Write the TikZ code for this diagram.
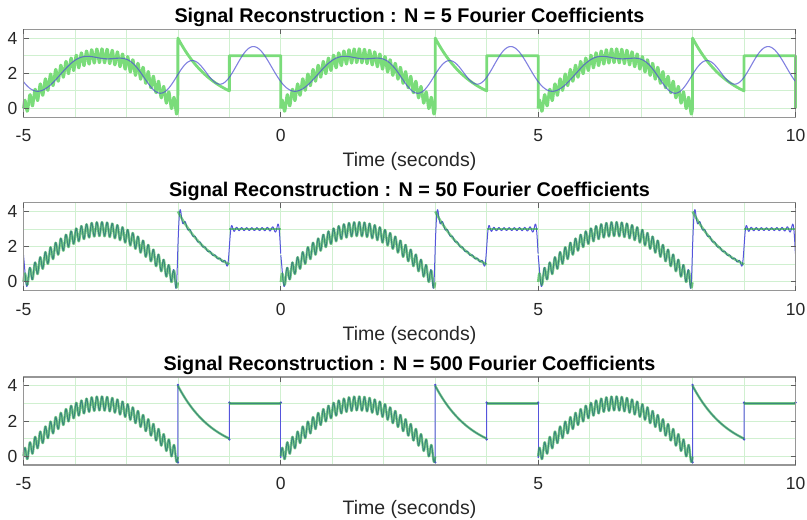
\documentclass[tikz,border=0pt]{standalone}
\usepackage{fontspec}
\setmainfont{Liberation Sans}

\definecolor{sigGreen}{RGB}{122,220,122}
\definecolor{sigGreenDark}{RGB}{40,170,60}
\definecolor{recBlue}{RGB}{80,80,212}
\definecolor{recBlueLight}{RGB}{85,85,220}
\definecolor{gridGreen}{RGB}{208,240,208}
\definecolor{boxGrey}{RGB}{150,150,150}
\definecolor{tickGrey}{RGB}{95,95,95}
\definecolor{labelGrey}{RGB}{38,38,38}

\tikzset{
  gridline/.style={gridGreen, line width=0.8pt},
  frameline/.style={boxGrey, line width=1.2pt},
  tickmark/.style={tickGrey, line width=0.9pt},
  ticklabel/.style={font=\fontsize{17.5}{20}\selectfont, text=labelGrey, inner sep=0pt},
  axlabel/.style={font=\fontsize{19.5}{22}\selectfont, text=labelGrey, inner sep=0pt},
  titletext/.style={font=\bfseries\fontsize{19.8}{22}\selectfont, text=black, inner sep=0pt},
  sigline/.style={sigGreen, line width=2.8pt, line join=round},
  sigover/.style={sigGreenDark, line width=2.4pt, line join=round, opacity=0.6},
  sigedge/.style={sigGreenDark, line width=1pt, opacity=0.6},
  recfive/.style={recBlue, line width=1.1pt, opacity=0.72},
  recline/.style={recBlueLight, line width=1pt, line join=round},
  jumpdot/.style={recBlue, fill=recBlue, inner sep=0pt, minimum size=2.6pt, circle}
}

% background grid of one axes (time runs 0..15 in scope units, value -0.5..4.5)
\newcommand{\panelgrid}{%
  \foreach \i in {1,...,14} {\draw[gridline] (\i,-0.5) -- (\i,4.5);}
  \foreach \j in {0,...,4} {\draw[gridline] (0,\j) -- (15,\j);}
}
% frame, ticks, tick labels, title and x label of one axes
\newcommand{\panelbox}[2]{%
  \draw[frameline] (0,-0.5) rectangle (15,4.5);
  \foreach \i/\lab in {0/-5,5/0,10/5,15/10} {
    \draw[tickmark] (\i,-0.5) -- ++(0,5pt);
    \draw[tickmark] (\i,4.5) -- ++(0,-5pt);
    \node[ticklabel, anchor=base] (#2-x\i) at ([yshift=-24.5pt]\i,-0.5) {\lab};
  }
  \foreach \j in {0,2,4} {
    \draw[tickmark] (0,\j) -- ++(5pt,0);
    \draw[tickmark] (15,\j) -- ++(-5pt,0);
    \node[ticklabel, anchor=east] (#2-y\j) at ([xshift=-6pt]0,\j) {\j};
  }
  \node[titletext, anchor=base] (#2-title) at ([yshift=6.5pt]7.5,4.5) {#1};
  \node[axlabel, anchor=base] (#2-xlabel) at ([yshift=-49.4pt]7.5,-0.5) {Time (seconds)};
}

\begin{document}
\begin{tikzpicture}[x=1pt, y=1pt,
  declare function={
    arch(\t)=3*sin(60*\t)+0.4*sin(3600*\t);
    dec(\t)=4*exp(-1.386294*\t);
    five(\t)=2.178724+0.050316*cos(72*\t)+0.140204*sin(72*\t)-0.432779*cos(144*\t)-0.547516*sin(144*\t)+0.168268*cos(216*\t)-0.444513*sin(216*\t)-0.412822*cos(288*\t)-0.429132*sin(288*\t)-0.025298*cos(360*\t)+0.182121*sin(360*\t);
    sit(\v)=\v*(1-\v*\v/18*(1-0.03*\v*\v*(1-0.0170068*\v*\v*(1-0.0108025*\v*\v*(1-0.00743802*\v*\v*(1-0.00542409*\v*\v))))));
    sia(\w)=pi/2-cos(deg(\w))*(1/\w)*(1-2*(1/\w)*(1/\w))-sin(deg(\w))*(1/\w)*(1/\w)*(1-6*(1/\w)*(1/\w));
    si(\u)=(\u<4)?sit(min(\u,4)):sia(max(\u,4));
    gp(\d)=si(62.832*min(max(\d,0),1.5))/pi-0.5;
  }]
\useasboundingbox (0,0) rectangle (807,520);

% ---------- N = 5 ----------
\begin{scope}[shift={(23.5pt,411.5pt)}, x=51.4667pt, y=17.6pt]
  \panelgrid
  \foreach \p in {0,5,10} {
    \draw[sigline] plot[domain=0:3, samples=601] ({\p+\x},{arch(\x)})
      -- plot[domain=0:1, samples=41] ({\p+3+\x},{dec(\x)})
      -- (\p+4,3) -- (\p+5,3) -- (\p+5,0);
  }
  \draw[recfive] plot[domain=-5:10, samples=751] ({\x+5},{five(\x)});
  \panelbox{Signal Reconstruction : N = 5 Fourier Coefficients}{pa}
\end{scope}

% ---------- N = 50 ----------
\begin{scope}[shift={(23.5pt,238.1pt)}, x=51.4667pt, y=17.6pt]
  \panelgrid
  \foreach \p in {0,5,10} {
    \draw[recline] plot[domain=0:3, samples=601] ({\p+\x},{arch(\x)-3*gp(\x)-4*gp(3-\x)})
      -- plot[domain=0:1, samples=201] ({\p+3+\x},{dec(\x)+0.06*sin(3600*\x)+4*gp(\x)-2*gp(1-\x)})
      -- plot[domain=0:1, samples=201] ({\p+4+\x},{3+0.06*sin(3600*\x)+2*gp(\x)+3*gp(1-\x)});
  }
  \foreach \p in {0,5,10} {
    \draw[sigover] plot[domain=0:3, samples=601] ({\p+\x},{arch(\x)});
    \draw[sigover] plot[domain=0:1, samples=41] ({\p+3+\x},{dec(\x)});
    \draw[sigover] (\p+4,3) -- (\p+5,3);
  }
  \draw[sigedge] (15,1.5) -- (15,0);
  \panelbox{Signal Reconstruction : N = 50 Fourier Coefficients}{pb}
\end{scope}

% ---------- N = 500 ----------
\begin{scope}[shift={(23.5pt,63.8pt)}, x=51.4667pt, y=17.6pt]
  \panelgrid
  \draw[recline] (0,1.5) -- (0,-0.1);
  \draw[recline] (5,3.05) -- (5,-0.1);
  \draw[recline] (10,3.05) -- (10,-0.1);
  \draw[recline] (15,3.05) -- (15,1.5);
  \foreach \p in {0,5,10} {
    \draw[recline] (\p,-0.1) -- plot[domain=0:3, samples=601] ({\p+\x},{arch(\x)})
      -- (\p+3,-0.35) -- (\p+3,4.05)
      -- plot[domain=0:1, samples=41] ({\p+3+\x},{dec(\x)})
      -- (\p+4,0.95) -- (\p+4,3.05) -- (\p+4,3) -- (\p+5,3) -- (\p+5,3.05);
    \node[jumpdot] (pc-d\p a) at (\p+3,-0.35) {};
    \node[jumpdot] (pc-d\p b) at (\p+3,4.05) {};
    \node[jumpdot] (pc-d\p c) at (\p+4,0.95) {};
    \node[jumpdot] (pc-d\p d) at (\p+4,3.05) {};
    \node[jumpdot] (pc-d\p e) at (\p+5,3.05) {};
  }
  \foreach \p in {0,5,10} {
    \draw[sigover] plot[domain=0:3, samples=601] ({\p+\x},{arch(\x)});
    \draw[sigover] plot[domain=0:1, samples=41] ({\p+3+\x},{dec(\x)});
    \draw[sigover] (\p+4,3) -- (\p+5,3);
  }
  \draw[sigedge] (15,1.5) -- (15,0);
  \panelbox{Signal Reconstruction : N = 500 Fourier Coefficients}{pc}
\end{scope}
\end{tikzpicture}
\end{document}
